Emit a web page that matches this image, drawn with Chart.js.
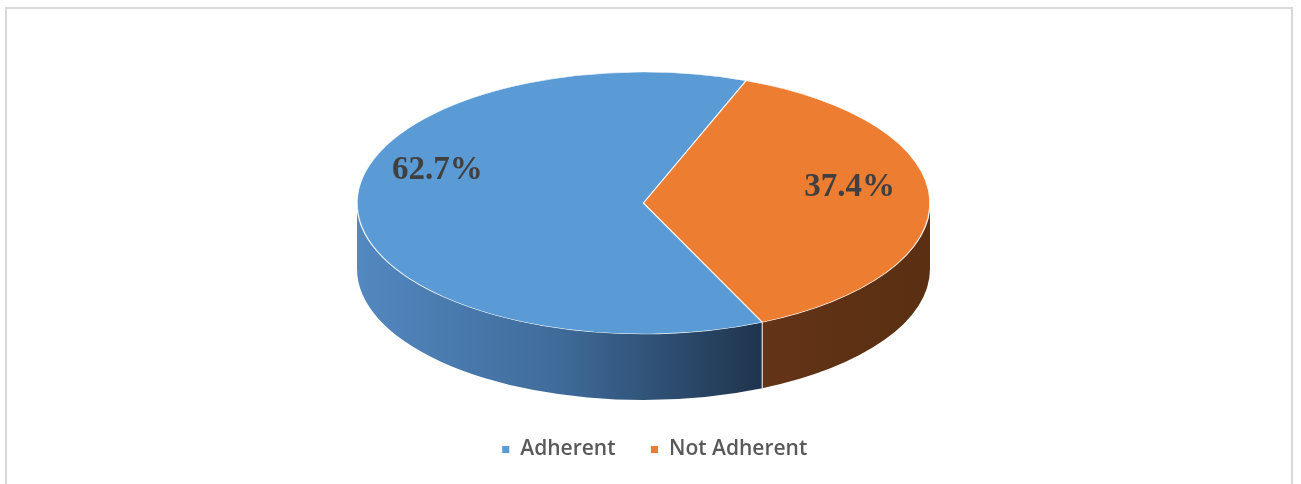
<!DOCTYPE html>
<html>
<head>
<meta charset="utf-8">
<script src="https://cdn.jsdelivr.net/npm/chart.js@4.4.1/dist/chart.umd.min.js"></script>
<style>
    html, body { margin: 0; padding: 0; background: #fff; overflow: hidden; }
    #frame { position: absolute; left: 5px; top: 7px; width: 1288px; height: 600px; box-sizing: border-box; border: 2px solid #d9d9d9; }
    #pie { position: absolute; left: 0; top: 0; }
</style>
</head>
<body>
<div id="frame"></div>
<canvas id="pie" width="1301" height="484"></canvas>
<script>
// --- data ---
const categories = ['Adherent', 'Not Adherent'];
const shares = [62.7, 37.4];
const topColors = ['#5b9bd5', '#ed7d31'];

// --- 3D look: where the ellipse sits, how deep the side wall is ---
const EX = 643.5, EY = 203, RX = 286.5, RY = 131, DEPTH = 66;
const LABEL_R = 0.72;
const labelLift = [-35, -13];
const sideShades = [
    ['#5388c0', '#3f6b99', '#1f344d'],
    ['#643417', '#5e3114', '#5a2f12']
];

function drawWall(ctx, lo, hi, i) {
    const xa = EX + RX * Math.cos(hi), xb = EX + RX * Math.cos(lo);
    const grad = ctx.createLinearGradient(Math.min(xa, xb), 0, Math.max(xa, xb), 0);
    grad.addColorStop(0, sideShades[i][0]);
    grad.addColorStop(0.5, sideShades[i][1]);
    grad.addColorStop(1, sideShades[i][2]);

    ctx.beginPath();
    ctx.ellipse(EX, EY, RX, RY, 0, lo, hi, false);
    ctx.ellipse(EX, EY + DEPTH, RX, RY, 0, hi, lo, true);
    ctx.closePath();
    ctx.fillStyle = grad;
    ctx.fill();

    // light seam where two slices meet on the wall
    ctx.strokeStyle = 'rgba(255,255,255,0.75)';
    ctx.lineWidth = 1;
    [lo, hi].forEach(a => {
        if (a > 0.001 && a < Math.PI - 0.001) {
            const x = EX + RX * Math.cos(a), y = EY + RY * Math.sin(a);
            ctx.beginPath();
            ctx.moveTo(x, y);
            ctx.lineTo(x, y + DEPTH);
            ctx.stroke();
        }
    });
}

const pie3d = {
    id: 'pie3d',
    beforeDatasetsDraw(chart) {
        const ctx = chart.ctx;
        const arcs = chart.getDatasetMeta(0).data;

        // front side walls (only the lower half of the ellipse shows)
        ctx.save();
        arcs.forEach((arc, i) => {
            const s = arc.startAngle, e = arc.endAngle;
            [-2 * Math.PI, 0, 2 * Math.PI].forEach(off => {
                const lo = Math.max(s + off, 0), hi = Math.min(e + off, Math.PI);
                if (hi > lo) drawWall(ctx, lo, hi, i);
            });
        });
        ctx.restore();

        // squash the round pie into the tilted top face
        const { x, y, outerRadius: r } = arcs[0];
        ctx.save();
        ctx.translate(EX, EY);
        ctx.scale(RX / r, RY / r);
        ctx.translate(-x, -y);
    },
    afterDatasetsDraw(chart) {
        const ctx = chart.ctx;
        ctx.restore();

        const arcs = chart.getDatasetMeta(0).data;
        ctx.save();
        ctx.font = 'bold 33px "Liberation Serif", "Times New Roman", serif';
        ctx.fillStyle = '#404040';
        ctx.textAlign = 'center';
        ctx.textBaseline = 'middle';
        arcs.forEach((arc, i) => {
            const mid = (arc.startAngle + arc.endAngle) / 2;
            const px = EX + LABEL_R * RX * Math.cos(mid);
            const py = EY + LABEL_R * RY * Math.sin(mid) + labelLift[i];
            ctx.fillText(shares[i].toFixed(1) + '%', px, py);
        });
        ctx.restore();
    }
};

new Chart(document.getElementById('pie'), {
    type: 'pie',
    data: {
        labels: categories,
        datasets: [{
            data: shares,
            backgroundColor: topColors,
            borderColor: 'rgba(255,255,255,0.85)',
            borderWidth: 1
        }]
    },
    options: {
        responsive: false,
        animation: false,
        events: [],
        rotation: 155.5,
        layout: { padding: { left: 8, right: 0, top: 0, bottom: 14 } },
        plugins: {
            tooltip: { enabled: false },
            legend: {
                position: 'bottom',
                labels: {
                    boxWidth: 8,
                    boxHeight: 8,
                    padding: 35,
                    color: '#595959',
                    font: { family: '"Open Sans", "Liberation Sans", sans-serif', size: 21, weight: '600' }
                }
            }
        }
    },
    plugins: [pie3d]
});
</script>
</body>
</html>
